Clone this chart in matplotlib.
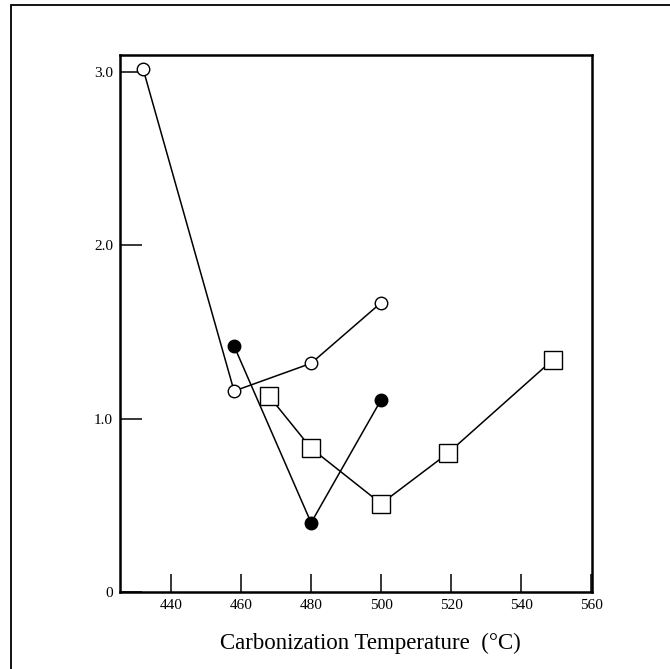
import matplotlib
matplotlib.use("Agg")
import matplotlib.pyplot as plt
from matplotlib.patches import Rectangle

# open circles
open_x = [432, 458, 480, 500]
open_y = [3.02, 1.16, 1.32, 1.67]
# filled circles
fill_x = [458, 480, 500]
fill_y = [1.42, 0.40, 1.11]
# open squares
sq_x = [468, 480, 500, 519, 549]
sq_y = [1.13, 0.83, 0.51, 0.80, 1.34]

xticks = [440, 460, 480, 500, 520, 540, 560]
yticks = [0, 1, 2, 3]
ytick_labels = ["0", "1.0", "2.0", "3.0"]

plt.rcParams['font.family'] = ['Liberation Serif', 'DejaVu Serif']

fig = plt.figure(figsize=(6.7, 6.69), dpi=100)
ax = fig.add_axes([0.179, 0.115, 0.705, 0.803])

ax.plot(open_x, open_y, color="black", lw=1.1, marker="o", ms=9,
        mfc="white", mec="black", mew=1.0)
ax.plot(fill_x, fill_y, color="black", lw=1.1, marker="o", ms=9,
        mfc="black", mec="black")
ax.plot(sq_x, sq_y, color="black", lw=1.1, marker="s", ms=13,
        mfc="white", mec="black", mew=1.0)

ax.set_xlim(425.4, 560.3)
ax.set_ylim(0, 3.1)
ax.set_xticks(xticks)
ax.set_yticks(yticks)
ax.set_yticklabels(ytick_labels)
ax.tick_params(axis="x", direction="in", length=13, width=1.1, pad=5, labelsize=11)
ax.tick_params(axis="y", direction="in", length=16, width=1.1, pad=5, labelsize=11)
for s in ax.spines.values():
    s.set_linewidth(1.8)

ax.set_xlabel("Carbonization Temperature  (°C)", fontsize=16.5)
ax.xaxis.set_label_coords(0.53, -0.075)

# frame around the whole picture (only top and left visible)
fig.patches.append(Rectangle((11 / 670, -0.1), 1.2, 1.1 - 5 / 669,
                             transform=fig.transFigure, fill=False,
                             ec="black", lw=1.3))

fig.savefig("out.png", dpi=100)
